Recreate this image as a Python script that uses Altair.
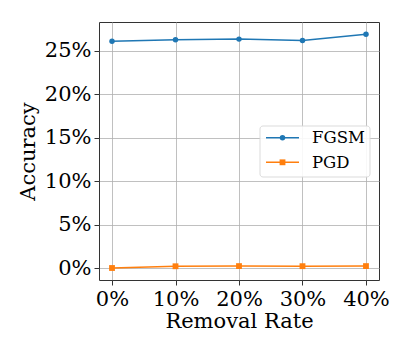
import altair as alt
import pandas as pd

rates = [0.0, 0.1, 0.2, 0.3, 0.4]
fgsm = [0.2609, 0.2626, 0.2633, 0.2616, 0.2689]
pgd = [0.0, 0.0020, 0.0022, 0.0021, 0.0022]
methods = ["FGSM", "PGD"]
colors = ["#1f77b4", "#ff7f0e"]
shapes = ["circle", "square"]
y_ticks = [0.0, 0.05, 0.10, 0.15, 0.20, 0.25]
x_ticks = rates

rows = []
for r, v in zip(rates, fgsm):
    rows.append({"rate": r, "acc": v, "Method": "FGSM"})
for r, v in zip(rates, pgd):
    rows.append({"rate": r, "acc": v, "Method": "PGD"})
df = pd.DataFrame(rows)

FONT = "DejaVu Serif"

x = alt.X("rate:Q", scale=alt.Scale(domain=[-0.0205, 0.4205], nice=False, zero=False),
          axis=alt.Axis(values=x_ticks, format=".0%", title="Removal Rate"))
y = alt.Y("acc:Q", scale=alt.Scale(domain=[-0.0138, 0.283], nice=False, zero=False),
          axis=alt.Axis(values=y_ticks, format=".0%", title="Accuracy"))
color = alt.Color("Method:N", scale=alt.Scale(domain=methods, range=colors), legend=None)

lines = alt.Chart(df).mark_line(strokeWidth=1.5).encode(x=x, y=y, color=color, detail="Method:N")

pts_f = alt.Chart(df).transform_filter("datum.Method == 'FGSM'").mark_point(
    filled=True, shape="circle", size=30, opacity=1).encode(x=x, y=y, color=color)
pts_p = alt.Chart(df).transform_filter("datum.Method == 'PGD'").mark_point(
    filled=True, shape="square", size=34, opacity=1).encode(x=x, y=y, color=color)

# ---- legend (drawn as marks, positioned inside the plot area) ----
leg_df = pd.DataFrame({"Method": methods})
box = alt.Chart(leg_df).transform_filter("datum.Method == 'FGSM'").mark_rect(
    fill="#ffffff", stroke="#d9d9d9", strokeWidth=1, cornerRadius=3, opacity=0.9
).encode(x=alt.value(161), x2=alt.value(271), y=alt.value(104), y2=alt.value(155))

legend_layers = [box]
row_y = [115.7, 140.3]
sizes = [30, 34]
for m, c, s, ry, sz in zip(methods, colors, shapes, row_y, sizes):
    sub = alt.Chart(leg_df).transform_filter(f"datum.Method == '{m}'")
    legend_layers.append(sub.mark_rule(color=c, strokeWidth=1.5).encode(
        x=alt.value(167), x2=alt.value(200), y=alt.value(ry)))
    legend_layers.append(sub.mark_point(filled=True, shape=s, size=sz, color=c, opacity=1).encode(
        x=alt.value(183.5), y=alt.value(ry)))
    legend_layers.append(sub.mark_text(font=FONT, fontSize=16.5, color="#000000",
                                       align="left", baseline="middle").encode(
        x=alt.value(213), y=alt.value(ry + 0.5), text="Method:N"))

chart = alt.layer(lines, pts_f, pts_p, *legend_layers).properties(
    width=280, height=258,
    autosize=alt.AutoSizeParams(type="none"),
    padding={"left": 91, "top": 14, "right": 24, "bottom": 72},
).configure(
    font=FONT
).configure_view(
    stroke="#333333", strokeWidth=1
).configure_axis(
    labelFont=FONT, titleFont=FONT, labelFontSize=21, titleFontSize=21,
    labelColor="#000000", titleColor="#000000", titleFontWeight="normal",
    grid=True, gridColor="#b0b0b0", gridWidth=0.8,
    domain=False, ticks=True, tickColor="#000000", tickWidth=0.8, tickSize=5,
    labelPadding=3,
).configure_axisX(
    titlePadding=1,
).configure_axisY(
    titlePadding=6,
)

chart.save("out.html", embed_options={"renderer": "svg", "actions": False})
